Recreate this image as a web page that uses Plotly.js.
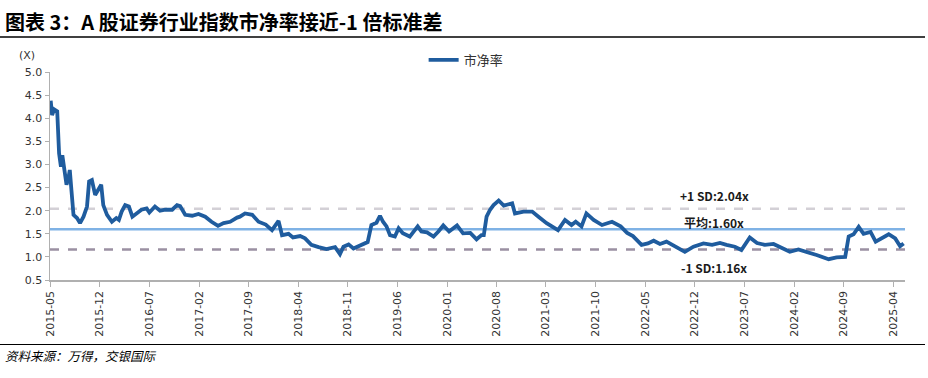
<!DOCTYPE html>
<html>
<head>
<meta charset="utf-8">
<script src="https://cdn.plot.ly/plotly-3.0.1.min.js"></script>
<style>
html,body{margin:0;padding:0;background:#fff;}
#chart{width:928px;height:378px;}
</style>
</head>
<body>
<div id="chart"></div>
<script>
// ---- data ----
const dates = [
 "2015-05-04","2015-05-10","2015-05-19","2015-06-01","2015-06-09","2015-06-17","2015-06-23","2015-07-01",
 "2015-07-11","2015-07-19","2015-07-25","2015-08-01","2015-08-10","2015-08-25","2015-09-07","2015-09-22",
 "2015-10-07","2015-10-16","2015-10-28","2015-11-11","2015-11-25","2015-12-07","2015-12-16","2016-01-01",
 "2016-01-22","2016-02-10","2016-02-21","2016-03-04","2016-03-19","2016-04-04","2016-04-19","2016-05-07",
 "2016-05-28","2016-06-19","2016-07-01","2016-07-25","2016-08-16","2016-09-07","2016-10-07","2016-10-28",
 "2016-11-10","2016-12-02","2017-01-01","2017-01-28","2017-02-26","2017-03-25","2017-04-22","2017-05-16",
 "2017-06-13","2017-07-13","2017-07-25","2017-08-16","2017-09-16","2017-10-13","2017-11-13","2017-12-10",
 "2018-01-07","2018-01-22","2018-02-19","2018-03-10","2018-04-10","2018-05-01","2018-05-28","2018-06-28",
 "2018-08-01","2018-09-07","2018-09-28","2018-10-13","2018-11-04","2018-11-25","2018-12-16","2019-01-07",
 "2019-01-25","2019-02-10","2019-03-04","2019-03-19","2019-04-01","2019-04-16","2019-05-01","2019-05-22",
 "2019-06-07","2019-06-25","2019-07-25","2019-08-28","2019-09-13","2019-10-07","2019-11-04","2019-11-25",
 "2019-12-16","2020-01-10","2020-02-13","2020-03-10","2020-04-10","2020-05-07","2020-05-28","2020-06-07",
 "2020-06-19","2020-07-04","2020-07-19","2020-08-10","2020-09-01","2020-10-07","2020-10-19","2020-11-25",
 "2021-01-01","2021-01-28","2021-03-04","2021-04-22","2021-05-22","2021-06-19","2021-07-07","2021-08-01",
 "2021-08-22","2021-09-22","2021-10-28","2021-12-10","2022-01-16","2022-02-13","2022-03-10","2022-04-16",
 "2022-05-13","2022-06-07","2022-07-04","2022-08-01","2022-09-16","2022-10-19","2022-11-25","2023-01-07",
 "2023-02-13","2023-03-19","2023-04-16","2023-05-22","2023-06-19","2023-07-25","2023-08-25","2023-09-28",
 "2023-11-04","2023-12-10","2024-01-13","2024-02-19","2024-03-28","2024-05-07","2024-06-28","2024-08-01",
 "2024-09-07","2024-09-22","2024-10-13","2024-11-04","2024-11-25","2024-12-25","2025-01-16","2025-02-13",
 "2025-03-13","2025-04-10","2025-05-01","2025-05-16"
];
const pbValues = [
 4.38,4.07,4.19,4.15,3.24,2.95,3.20,2.92,
 2.56,2.70,2.88,2.45,1.91,1.84,1.73,1.87,
 2.09,2.63,2.66,2.34,2.45,2.56,2.12,1.91,
 1.76,1.84,1.80,1.98,2.12,2.09,1.87,1.94,
 2.02,2.05,1.96,2.09,2.00,2.02,2.02,2.12,
 2.10,1.91,1.89,1.93,1.87,1.76,1.67,1.73,
 1.76,1.85,1.87,1.94,1.91,1.76,1.70,1.58,
 1.78,1.47,1.50,1.42,1.45,1.40,1.26,1.21,
 1.17,1.21,1.06,1.22,1.27,1.18,1.23,1.27,
 1.32,1.69,1.74,1.89,1.76,1.66,1.47,1.44,
 1.62,1.51,1.44,1.66,1.55,1.53,1.44,1.55,
 1.68,1.55,1.68,1.51,1.52,1.38,1.47,1.47,
 1.87,2.02,2.12,2.22,2.11,2.16,1.94,1.98,
 1.98,1.87,1.73,1.58,1.80,1.69,1.76,1.66,
 1.94,1.80,1.69,1.76,1.66,1.52,1.45,1.26,
 1.29,1.35,1.28,1.33,1.19,1.11,1.22,1.29,
 1.26,1.30,1.26,1.22,1.15,1.42,1.30,1.26,
 1.28,1.19,1.11,1.16,1.11,1.04,0.95,0.99,
 1.00,1.44,1.49,1.65,1.50,1.54,1.33,1.40,
 1.49,1.40,1.23,1.29
];
const meanValue = 1.60;
const plusSD = 2.04;
const minusSD = 1.16;
const tickDates = ["2015-05-01","2015-12-01","2016-07-01","2017-02-01","2017-09-01","2018-04-01",
 "2018-11-01","2019-06-01","2020-01-01","2020-08-01","2021-03-01","2021-10-01","2022-05-01",
 "2022-12-01","2023-07-01","2024-02-01","2024-09-01","2025-04-01"];
const tickLabels = ["2015-05","2015-12","2016-07","2017-02","2017-09","2018-04","2018-11","2019-06",
 "2020-01","2020-08","2021-03","2021-10","2022-05","2022-12","2023-07","2024-02","2024-09","2025-04"];
const yTicks = [0.5,1.0,1.5,2.0,2.5,3.0,3.5,4.0,4.5,5.0];
const yTickLabels = ["0.5","1.0","1.5","2.0","2.5","3.0","3.5","4.0","4.5","5.0"];

const cjk = '"Noto Sans CJK SC", "DejaVu Sans", sans-serif';
const tickFont = {family:'"DejaVu Sans", sans-serif', size:11, color:'#333'};

const traces = [{
  x: dates, y: pbValues, type:'scatter', mode:'lines', name:'市净率',
  line:{color:'#1f5c9e', width:3.8}
}];

const layout = {
  width:928, height:378,
  margin:{l:50, r:23, t:72, b:98},
  paper_bgcolor:'#fff', plot_bgcolor:'#fff',
  hovermode:false,
  showlegend:true,
  legend:{x:0.437, y:1.058, xanchor:'left', yanchor:'middle', orientation:'h',
    font:{family:cjk, size:13, color:'#333'}, bgcolor:'rgba(0,0,0,0)'},
  xaxis:{
    type:'date', range:['2015-05-01','2025-05-22'],
    tickmode:'array', tickvals:tickDates, ticktext:tickLabels,
    tickangle:-90, tickfont:tickFont,
    showgrid:false, zeroline:false,
    showline:true, linecolor:'#b0b0b0', linewidth:1.5,
    ticks:'outside', ticklen:5, tickcolor:'#b0b0b0'
  },
  yaxis:{
    range:[0.5,5.0], tickmode:'array', tickvals:yTicks, ticktext:yTickLabels,
    tickfont:tickFont, showgrid:false, zeroline:false,
    showline:true, linecolor:'#b0b0b0', linewidth:1.5,
    ticks:'outside', ticklen:4, tickcolor:'#b0b0b0'
  },
  shapes:[
    {type:'line', xref:'paper', yref:'y', x0:0, x1:1, y0:plusSD, y1:plusSD,
     line:{color:'#d3d0d6', width:2.5, dash:'dash'}, layer:'below'},
    {type:'line', xref:'paper', yref:'y', x0:0, x1:1, y0:minusSD, y1:minusSD,
     line:{color:'#9b90a2', width:2.5, dash:'dash'}, layer:'below'},
    {type:'line', xref:'paper', yref:'y', x0:0, x1:1, y0:meanValue, y1:meanValue,
     line:{color:'#7fb2e5', width:2.5}, layer:'below'},
    {type:'line', xref:'paper', yref:'paper', x0:-0.0585, x1:1.0234, y0:1.168, y1:1.168,
     line:{color:'#000', width:1.5}},
    {type:'line', xref:'paper', yref:'paper', x0:-0.0585, x1:1.0234, y0:-0.31, y1:-0.31,
     line:{color:'#000', width:1.2}}
  ],
  annotations:[
    {text:'<b>图表 3：A 股证券行业指数市净率接近-1 倍标准差</b>', xref:'paper', yref:'paper',
     x:-0.055, y:1.243, xanchor:'left', yanchor:'middle', showarrow:false,
     font:{family:cjk, size:20, color:'#000'}},
    {text:'(X)', xref:'paper', yref:'paper', x:-0.027, y:1.08, xanchor:'center', yanchor:'middle',
     showarrow:false, font:tickFont},
    {text:'<b>+1 SD:' + plusSD.toFixed(2) + 'x</b>', xref:'paper', yref:'y', x:0.777, y:plusSD, yshift:13,
     xanchor:'center', yanchor:'middle', showarrow:false, font:{family:cjk, size:12, color:'#1a1a1a'}},
    {text:'<b>平均:' + meanValue.toFixed(2) + 'x</b>', xref:'paper', yref:'y', x:0.777, y:meanValue, yshift:7,
     xanchor:'center', yanchor:'middle', showarrow:false, font:{family:cjk, size:12, color:'#1a1a1a'}},
    {text:'<b>-1 SD:' + minusSD.toFixed(2) + 'x</b>', xref:'paper', yref:'y', x:0.777, y:minusSD, yshift:-18,
     xanchor:'center', yanchor:'middle', showarrow:false, font:{family:cjk, size:12, color:'#1a1a1a'}},
    {text:'<i>资料来源：万得，交银国际</i>', xref:'paper', yref:'paper', x:-0.055, y:-0.363,
     xanchor:'left', yanchor:'middle', showarrow:false, font:{family:cjk, size:12.5, color:'#000'}}
  ]
};

Plotly.newPlot('chart', traces, layout, {displayModeBar:false, staticPlot:true});
</script>
</body>
</html>
